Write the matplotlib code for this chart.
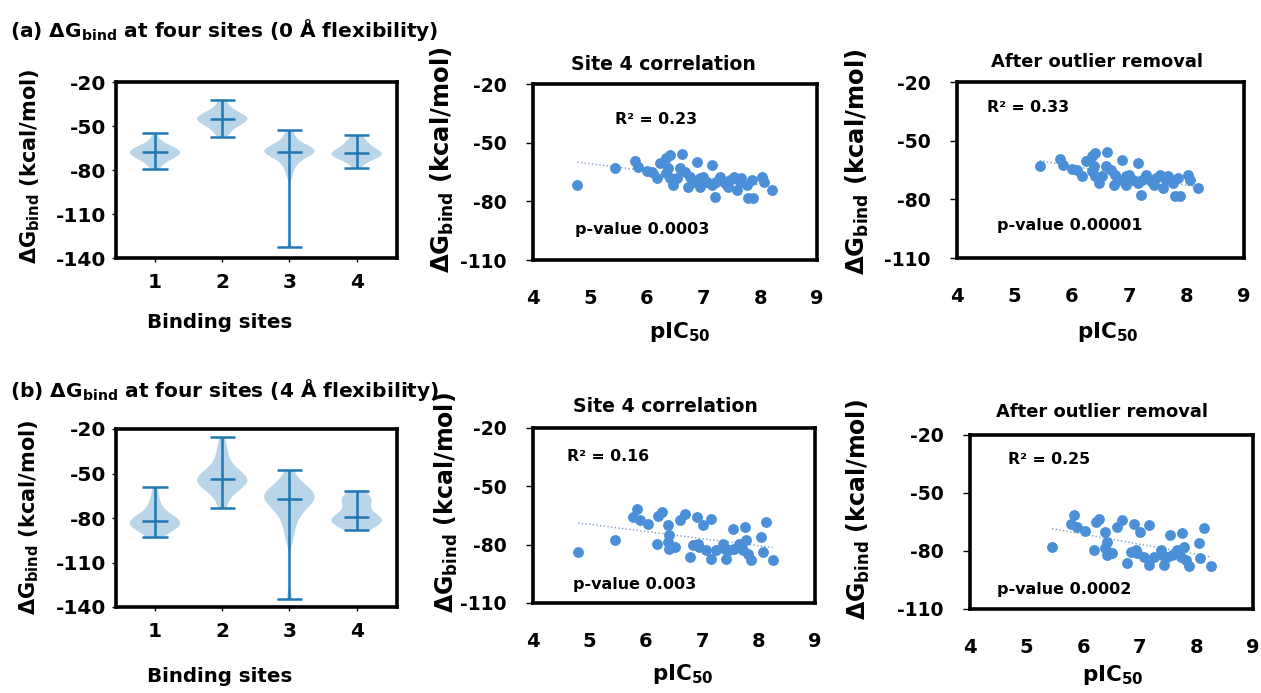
import numpy as np
import matplotlib
matplotlib.use("Agg")
import matplotlib.pyplot as plt

plt.rcParams['font.family'] = ['DejaVu Sans']
plt.rcParams['font.weight'] = 'bold'
plt.rcParams['mathtext.fontset'] = 'dejavusans'
plt.rcParams['axes.unicode_minus'] = False

# ---- data ----
sites = [1, 2, 3, 4]

# site 4 docking scores vs pIC50, 0 A flexibility
pic50_a = [4.78, 5.44, 5.80, 5.85, 6.00, 6.09, 6.18, 6.24, 6.35, 6.41, 6.38, 6.35, 6.41, 6.47, 6.62,
           6.59, 6.68, 6.73, 6.88, 6.82, 6.94, 7.00, 7.06, 7.15, 7.15, 7.20, 7.29, 7.38, 7.47, 7.53,
           7.59, 7.67, 7.76, 7.79, 7.85, 8.03, 8.06, 8.20, 7.88, 7.43, 6.76, 6.53, 6.94, 7.23, 7.64]
dg_a = [-71.6, -63.1, -59.4, -62.3, -64.5, -65.2, -68.2, -60.5, -58.0, -56.3, -63.1, -65.7, -68.2, -71.6, -55.9,
        -63.1, -64.8, -72.5, -59.7, -69.9, -68.2, -67.4, -69.9, -61.4, -71.6, -77.6, -67.4, -70.8, -69.1, -67.4,
        -74.2, -68.2, -71.6, -78.4, -69.1, -67.4, -69.9, -74.2, -78.4, -72.5, -67.4, -68.2, -72.5, -69.9, -69.9]

# site 4 docking scores vs pIC50, 4 A flexibility
pic50_b = [4.80, 5.45, 5.84, 5.78, 5.89, 6.04, 6.19, 6.22, 6.28, 6.39, 6.42, 6.39, 6.42, 6.51, 6.60,
           6.69, 6.90, 7.01, 7.16, 6.78, 6.84, 6.95, 7.07, 7.16, 7.25, 7.37, 7.40, 7.43, 7.54, 7.57,
           7.66, 7.75, 7.72, 7.78, 7.87, 7.81, 8.07, 8.13, 8.05, 8.25, 7.69, 7.48, 6.93]
dg_b = [-83.8, -77.8, -61.5, -65.8, -67.5, -69.5, -79.5, -65.0, -63.3, -70.0, -75.2, -78.6, -82.0, -81.2, -67.5,
        -64.1, -65.8, -70.0, -66.7, -86.3, -80.3, -81.2, -82.9, -87.2, -82.9, -79.5, -82.0, -87.2, -71.7, -82.0,
        -79.5, -70.9, -82.9, -77.7, -88.0, -84.6, -83.8, -68.3, -76.0, -88.0, -81.2, -82.9, -79.5]

# binding energies at sites 1-3 (site 4 = the scatter values above)
site1_a = [-55, -60, -62, -63, -64, -65, -65, -66, -66, -67, -67, -68, -68, -68, -69, -69, -70, -70,
           -71, -71, -72, -73, -74, -75, -77, -79.5]
site2_a = [-32, -36, -38, -40, -41, -42, -43, -43, -44, -44, -45, -45, -46, -46, -47, -47, -48, -49,
           -50, -51, -53, -55, -57.3]
site3_a = [-52.7, -57, -60, -62, -63, -64, -65, -66, -66, -67, -67, -67.5, -68, -68, -69, -70, -71,
           -72, -74, -76, -79, -84, -132.3]
site1_b = [-59.3, -66, -70, -73, -76, -78, -79, -80, -81, -81.5, -81.8, -82, -83, -84, -84, -85, -85,
           -86, -87, -88, -89, -90, -93]
site2_b = [-25.6, -32, -36, -40, -43, -46, -48, -50, -51, -52, -52, -52.1, -53, -54, -55, -56, -56,
           -57, -57, -58, -59, -60, -62, -65, -69, -73.5]
site3_b = [-47.6, -54, -57, -59, -61, -62, -63, -64, -65, -66, -67, -67.9, -69, -70, -72, -74, -76,
           -79, -83, -88, -95, -134.9]

# KDE bandwidth factor per site (site 3 has one far outlier)
bw_a = [0.55, 0.55, 0.22, 0.55]
bw_b = [0.55, 0.5, 0.3, 0.55]

r2_labels = {'a': ["R\u00b2 = 0.23", "R\u00b2 = 0.33"], 'b': ["R\u00b2 = 0.16", "R\u00b2 = 0.25"]}
p_labels = {'a': ["p-value 0.0003", "p-value 0.00001"], 'b': ["p-value 0.003", "p-value 0.0002"]}

violin_ticks = [-20, -50, -80, -110, -140]
scatter_yticks = [-20, -50, -80, -110]
scatter_xticks = [4, 5, 6, 7, 8, 9]

W, H = 1261, 693
fig = plt.figure(figsize=(W / 100, H / 100), dpi=100)

DOT = '#4a8fd8'
VIO = '#1f77b4'
YLAB = '$\\mathbf{\\Delta G_{bind}}$ (kcal/mol)'
XLAB = 'pIC$_{\\mathbf{50}}$'


def px_axes(x0, y0, x1, y1):
    return fig.add_axes([x0 / W, 1 - y1 / H, (x1 - x0) / W, (y1 - y0) / H])


def px_text(x, y, s, **kw):
    kw.setdefault('ha', 'center')
    kw.setdefault('va', 'center')
    fig.text(x / W, 1 - y / H, s, fontweight='bold', **kw)


def frame(ax):
    for sp in ax.spines.values():
        sp.set_linewidth(2.6)
        sp.set_color('black')
    for lab in ax.get_xticklabels() + ax.get_yticklabels():
        lab.set_fontweight('bold')


def violin_panel(ax, data, bws):
    for pos, vals, bw in zip(sites, data, bws):
        parts = ax.violinplot([vals], positions=[pos], widths=0.75, showmedians=True, bw_method=bw)
        for body in parts['bodies']:
            body.set_facecolor(VIO)
            body.set_edgecolor('none')
            body.set_alpha(0.3)
        for key in ['cbars', 'cmins', 'cmaxes', 'cmedians']:
            parts[key].set_linewidth(1.8)
            parts[key].set_color(VIO)
    ax.set_xlim(0.42, 4.6)
    ax.set_ylim(-140, -20)
    ax.set_yticks(violin_ticks)
    ax.set_xticks(sites)
    ax.tick_params(axis='y', length=3, width=1, pad=4, labelsize=14.5)
    ax.tick_params(axis='x', length=3, width=1, pad=8, labelsize=14.5)
    frame(ax)


def scatter_panel(ax, x, y, r2, pval, r2_pos, p_pos):
    x = np.array(x)
    y = np.array(y)
    ax.scatter(x, y, s=46, color=DOT, zorder=3)
    k, b = np.polyfit(x, y, 1)
    xs = np.array([x.min(), x.max()])
    ax.plot(xs, k * xs + b, ':', color='#7f9fc0', lw=1.0, zorder=2)
    ax.text(r2_pos[0], r2_pos[1], r2, fontsize=11.3, fontweight='bold', va='center')
    ax.text(p_pos[0], p_pos[1], pval, fontsize=11.5, fontweight='bold', va='center')
    ax.set_xlim(4, 9)
    ax.set_ylim(-110, -20)
    ax.set_xticks(scatter_xticks)
    ax.set_yticks(scatter_yticks)
    ax.tick_params(axis='y', length=5, width=1, pad=14, labelsize=13.5)
    ax.tick_params(axis='x', length=0, pad=21, labelsize=14)
    frame(ax)


# ---- row (a) ----
ax = px_axes(116, 82, 397, 258)
violin_panel(ax, [site1_a, site2_a, site3_a, dg_a], bw_a)
ax = px_axes(533, 84, 817, 260)
scatter_panel(ax, pic50_a, dg_a, r2_labels['a'][0], p_labels['a'][0], (5.44, -38.4), (4.74, -94.6))
keep = np.argsort(pic50_a)[1:]
ax = px_axes(957, 82, 1244, 258)
scatter_panel(ax, np.array(pic50_a)[keep], np.array(dg_a)[keep], r2_labels['a'][1], p_labels['a'][1],
              (4.52, -32.9), (4.70, -93.6))

# ---- row (b) ----
ax = px_axes(116, 429, 397, 607)
violin_panel(ax, [site1_b, site2_b, site3_b, dg_b], bw_b)
ax = px_axes(533, 428, 815, 603)
scatter_panel(ax, pic50_b, dg_b, r2_labels['b'][0], p_labels['b'][0], (4.60, -34.6), (4.71, -100.4))
keep = np.argsort(pic50_b)[1:]
ax = px_axes(970, 435, 1253, 609)
scatter_panel(ax, np.array(pic50_b)[keep], np.array(dg_b)[keep], r2_labels['b'][1], p_labels['b'][1],
              (4.67, -32.9), (4.48, -100.0))

# ---- texts ----
px_text(10, 30, '(a) $\\mathbf{\\Delta G_{bind}}$ at four sites (0 Å flexibility)', ha='left', fontsize=14.5)
px_text(10, 390, '(b) $\\mathbf{\\Delta G_{bind}}$ at four sites (4 Å flexibility)', ha='left', fontsize=14.5)
px_text(663, 65, 'Site 4 correlation', fontsize=13.6)
px_text(665, 407, 'Site 4 correlation', fontsize=13.6)
px_text(1097, 62, 'After outlier removal', fontsize=12.9)
px_text(1102, 412, 'After outlier removal', fontsize=12.9)

for xx, yy, fs in [(30, 166, 15), (29, 517, 15), (442, 160, 17.5), (857, 162, 17.5),
                   (446, 503, 17), (858, 510, 17)]:
    px_text(xx, yy, YLAB, rotation=90, fontsize=fs)
for xx, yy in [(220, 323), (220, 676)]:
    px_text(xx, yy, 'Binding sites', fontsize=14.3)
for xx, yy in [(680, 332), (1108, 332), (683, 674), (1113, 675)]:
    px_text(xx, yy, XLAB, fontsize=15.5)

fig.savefig('out.png', dpi=100)
